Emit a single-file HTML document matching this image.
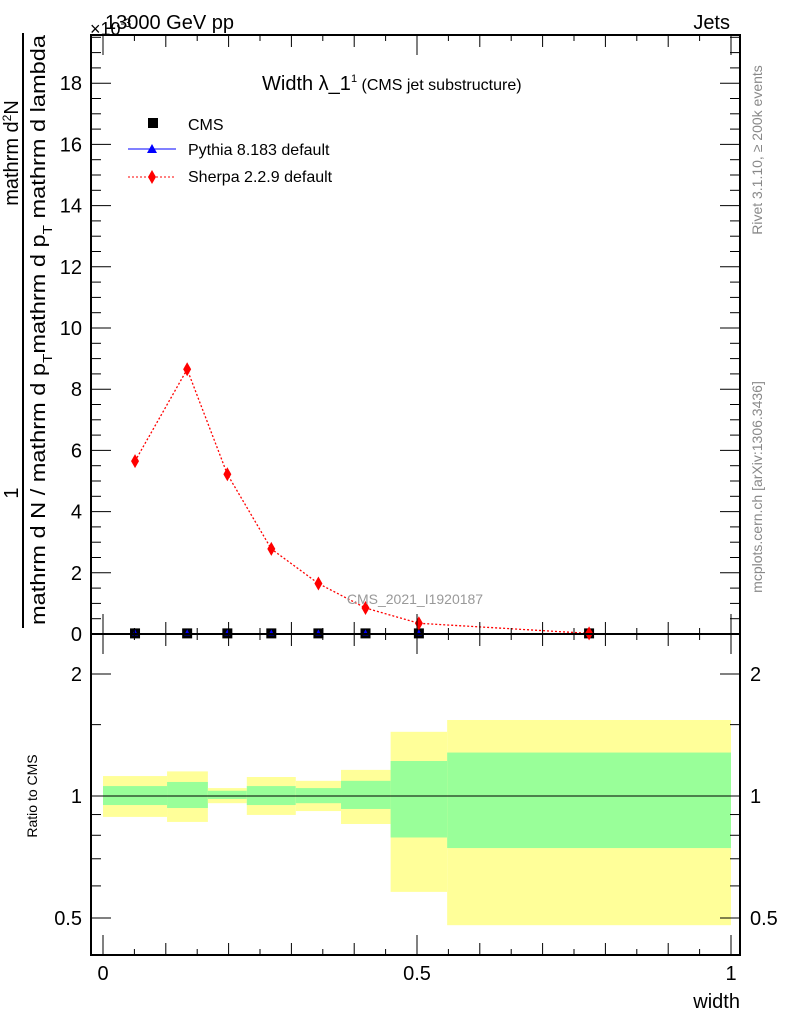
<!DOCTYPE html>
<html><head><meta charset="utf-8"><style>
body{margin:0;background:#fff;font-family:"Liberation Sans",sans-serif}
svg{display:block}
</style></head><body>
<svg id="c" width="786" height="1024" xmlns="http://www.w3.org/2000/svg" font-family="Liberation Sans, sans-serif">
<g id="bands"></g>
<g id="marks"></g>
<g id="axes" stroke="#000" fill="none"></g>
<g id="labels"></g>
<text x="105" y="29" font-size="20">13000 GeV pp</text>
<text x="90" y="35" font-size="18">×10<tspan font-size="12" dy="-8">-3</tspan></text>
<text x="730" y="29" font-size="20" text-anchor="end">Jets</text>
<text x="262" y="90" font-size="20">Width λ_1<tspan font-size="11" dy="-8">1</tspan><tspan font-size="16" dy="8"> (CMS jet substructure)</tspan></text>
<g>
<rect x="148" y="118" width="10" height="10" fill="#000"/>
<text x="188" y="130" font-size="16">CMS</text>
<line x1="128" y1="149" x2="176" y2="149" stroke="#00f"/>
<polygon points="152,144 157,153 147,153" fill="#00f"/>
<text x="188" y="155" font-size="16">Pythia 8.183 default</text>
<line x1="128" y1="177" x2="176" y2="177" stroke="#f00" stroke-dasharray="2,2"/>
<polygon points="152,170 156,177 152,184 148,177" fill="#f00"/>
<text x="188" y="182" font-size="16">Sherpa 2.2.9 default</text>
</g>
<text x="415" y="604" font-size="14" fill="#999" text-anchor="middle">CMS_2021_I1920187</text>
<text transform="translate(762,150) rotate(-90)" font-size="14" fill="#888" text-anchor="middle">Rivet 3.1.10, ≥ 200k events</text>
<text transform="translate(762,487) rotate(-90)" font-size="14" fill="#888" text-anchor="middle">mcplots.cern.ch [arXiv:1306.3436]</text>
<g>
<text transform="translate(18,493) rotate(-90)" font-size="20" text-anchor="middle">1</text>
<text transform="translate(18,153) rotate(-90)" font-size="20" text-anchor="middle">mathrm d<tspan font-size="12" dy="-7">2</tspan><tspan dy="7">N</tspan></text>
<line x1="23" y1="33" x2="23" y2="628" stroke="#000" stroke-width="2"/>
<text transform="translate(45,330) rotate(-90)" font-size="20" text-anchor="middle" textLength="590" lengthAdjust="spacingAndGlyphs">mathrm d N / mathrm d p<tspan font-size="13" dy="7">T</tspan><tspan dy="-7">mathrm d p</tspan><tspan font-size="13" dy="7">T</tspan><tspan dy="-7"> mathrm d lambda</tspan></text>
</g>
<text transform="translate(37,796) rotate(-90)" font-size="14" text-anchor="middle">Ratio to CMS</text>
<text x="740" y="1008" font-size="20" text-anchor="end">width</text>
</svg>
<script>
const binEdges=[0,0.102,0.167,0.229,0.307,0.379,0.458,0.548,1.0];
const binCenters=[0.051,0.134,0.198,0.268,0.343,0.418,0.503,0.774];
const sherpaValues=[5.65,8.65,5.22,2.78,1.65,0.85,0.35,0.02];
const cmsValues=[0.02,0.02,0.02,0.02,0.02,0.02,0.02,0.02];
const pythiaValues=[0.02,0.02,0.02,0.02,0.02,0.02,0.02,0.02];
const yellowHi=[1.12,1.15,1.046,1.114,1.09,1.16,1.44,1.54];
const yellowLo=[0.888,0.863,0.96,0.898,0.918,0.853,0.58,0.48];
const greenHi=[1.058,1.083,1.03,1.058,1.046,1.09,1.22,1.28];
const greenLo=[0.95,0.934,0.983,0.95,0.96,0.929,0.79,0.744];
const yTicks=[0,2,4,6,8,10,12,14,16,18];
const xTicks=[0,0.5,1];
const rTicks=[0.5,1,2];

const NS="http://www.w3.org/2000/svg";
const L=91,R=740,T=35,MB=634,RB=955;
const X=v=>103+628*v;
const Y=v=>634-30.6*v;
const RY=v=>796-122*Math.log2(v);
function mk(tag,attrs,parent){const e=document.createElementNS(NS,tag);for(const k in attrs)e.setAttribute(k,attrs[k]);document.getElementById(parent).appendChild(e);return e;}

for(let i=0;i<sherpaValues.length;i++){
  const x1=X(binEdges[i]),x2=X(binEdges[i+1]);
  let e=mk('rect',{x:x1,y:RY(yellowHi[i]),width:x2-x1,height:RY(yellowLo[i])-RY(yellowHi[i]),fill:'#ffff99'},'bands');
  
  
  e=mk('rect',{x:x1,y:RY(greenHi[i]),width:x2-x1,height:RY(greenLo[i])-RY(greenHi[i]),fill:'#99ff99'},'bands');
  
  
}
let e=mk('line',{x1:X(binEdges[0]),x2:X(binEdges[8]),y1:RY(1),y2:RY(1),stroke:'#000'},'marks');


e=mk('polyline',{points:binCenters.map((c,i)=>X(c)+','+Y(sherpaValues[i])).join(' '),fill:'none',stroke:'#f00','stroke-dasharray':'2,2','stroke-width':1.3},'marks');


binCenters.forEach((c,i)=>{
  const x=X(c);
  let m=mk('rect',{x:x-5,y:Y(cmsValues[i])-5,width:10,height:10,fill:'#000'},'marks');
  
  
  const py=Y(pythiaValues[i]);
  m=mk('polygon',{points:`${x},${py-4} ${x+3},${py+2} ${x-3},${py+2}`,fill:'#00f'},'marks');
  
  
  const sy=Y(sherpaValues[i]);
  m=mk('polygon',{points:`${x},${sy-7} ${x+4},${sy} ${x},${sy+7} ${x-4},${sy}`,fill:'#f00'},'marks');
  
  
});
e=mk('rect',{x:L,y:T,width:R-L,height:MB-T,'stroke-width':2},'axes');


e=mk('rect',{x:L,y:MB,width:R-L,height:RB-MB,'stroke-width':2},'axes');


for(let k=0;k<=39;k++){const v=k*0.5;const y=Y(v);const maj=(k%4===0);const len=maj?20:10;
  mk('line',{x1:L,x2:L+len,y1:y,y2:y},'axes');mk('line',{x1:R,x2:R-len,y1:y,y2:y},'axes');}
yTicks.forEach(v=>{const t=mk('text',{x:82,y:Y(v)+7,'font-size':20,'text-anchor':'end'},'labels');t.textContent=v;
  
  });
for(let k=0;k<=20;k++){const v=k*0.05;const x=X(v);const len=(k%10===0)?20:(k%2===0?12:6);
  mk('line',{x1:x,x2:x,y1:MB,y2:MB-len},'axes');mk('line',{x1:x,x2:x,y1:T,y2:T+len},'axes');
  mk('line',{x1:x,x2:x,y1:RB,y2:RB-len},'axes');mk('line',{x1:x,x2:x,y1:MB,y2:MB+len},'axes');}
xTicks.forEach(v=>{const t=mk('text',{x:X(v),y:980,'font-size':20,'text-anchor':'middle'},'labels');t.textContent=v;
  
  });
[0.5,0.6,0.7,0.8,0.9,1,1.5,2].forEach(v=>{const y=RY(v);const len=rTicks.includes(v)?20:10;
  mk('line',{x1:L,x2:L+len,y1:y,y2:y},'axes');mk('line',{x1:R,x2:R-len,y1:y,y2:y},'axes');});
rTicks.forEach(v=>{let t=mk('text',{x:82,y:RY(v)+7,'font-size':20,'text-anchor':'end'},'labels');t.textContent=v;
  
  
  t=mk('text',{x:750,y:RY(v)+7,'font-size':20},'labels');t.textContent=v;
  
  });
</script>
</body></html>
